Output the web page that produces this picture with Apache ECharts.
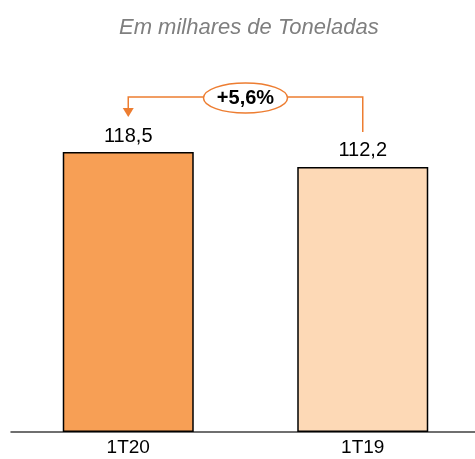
<!DOCTYPE html>
<html>
<head>
<meta charset="utf-8">
<script src="https://cdn.jsdelivr.net/npm/echarts@6/dist/echarts.min.js"></script>
<style>
  html, body { margin: 0; padding: 0; background: #fff; overflow: hidden; }
  #main { width: 480px; height: 459px; }
</style>
</head>
<body>
<div id="main"></div>
<script>
// dados
const categories = ['1T20', '1T19'];
const values = [118.5, 112.2];
const valueLabels = ['118,5', '112,2'];
const barColors = ['#F79F55', '#FDD9B6'];
const variation = '+5,6%';
const subtitle = 'Em milhares de Toneladas';

const FONT = 'Liberation Sans';
const ORANGE = '#ED7D31';

let chart = echarts.init(document.getElementById('main'), null, { renderer: 'canvas' });

let option = {
  animation: false,
  title: {
    text: subtitle,
    left: 114,
    top: 12,
    textStyle: {
      fontFamily: FONT,
      fontStyle: 'italic',
      fontWeight: 'normal',
      fontSize: 22,
      color: '#7F7F7F'
    }
  },
  // o eixo continua além da borda direita
  grid: { left: 11, right: 0, top: 80, bottom: 27 },
  xAxis: {
    type: 'category',
    data: categories,
    axisLine: { lineStyle: { color: '#404040', width: 1.5 } },
    axisTick: { show: false },
    axisLabel: { margin: 6, fontFamily: FONT, fontSize: 19, color: '#000' }
  },
  yAxis: {
    type: 'value',
    min: 0,
    max: 149,
    show: false,
    splitLine: { show: false }
  },
  series: [{
    type: 'bar',
    barWidth: 131,
    data: values.map((v, i) => ({
      value: v,
      itemStyle: { color: barColors[i], borderColor: '#000', borderWidth: 1.5 }
    })),
    label: {
      show: true,
      position: 'top',
      distance: 6,
      fontFamily: FONT,
      fontSize: 20,
      color: '#000',
      formatter(p) {
        return valueLabels[p.dataIndex];
      }
    }
  }]
};
chart.setOption(option);

// seta de variação, posicionada a partir dos pontos das barras
let p1 = chart.convertToPixel({ seriesIndex: 0 }, [0, values[0]]);
let p2 = chart.convertToPixel({ seriesIndex: 0 }, [1, values[1]]);
let lineY = 97;
let cx = (p1[0] + p2[0]) / 2;
let rx = 42, ry = 15;
let arrowTip = p1[1] - 35;
let lineStyle = { stroke: ORANGE, lineWidth: 1.5, fill: null };

chart.setOption({
  graphic: [
    {
      type: 'polyline',
      shape: { points: [[p2[0], p2[1] - 35], [p2[0], lineY], [cx + rx, lineY]] },
      style: lineStyle
    },
    {
      type: 'polyline',
      shape: { points: [[cx - rx, lineY], [p1[0], lineY], [p1[0], arrowTip - 8]] },
      style: lineStyle
    },
    {
      type: 'polygon',
      shape: { points: [[p1[0] - 5.5, arrowTip - 9], [p1[0] + 5.5, arrowTip - 9], [p1[0], arrowTip]] },
      style: { fill: ORANGE }
    },
    {
      type: 'ellipse',
      shape: { cx: cx, cy: lineY + 1, rx: rx, ry: ry },
      style: { fill: '#fff', stroke: ORANGE, lineWidth: 1.5 }
    },
    {
      type: 'text',
      x: cx,
      y: lineY + 1,
      style: {
        text: variation,
        align: 'center',
        verticalAlign: 'middle',
        fontFamily: FONT,
        fontWeight: 'bold',
        fontSize: 20,
        fill: '#000'
      }
    }
  ]
});
</script>
</body>
</html>
